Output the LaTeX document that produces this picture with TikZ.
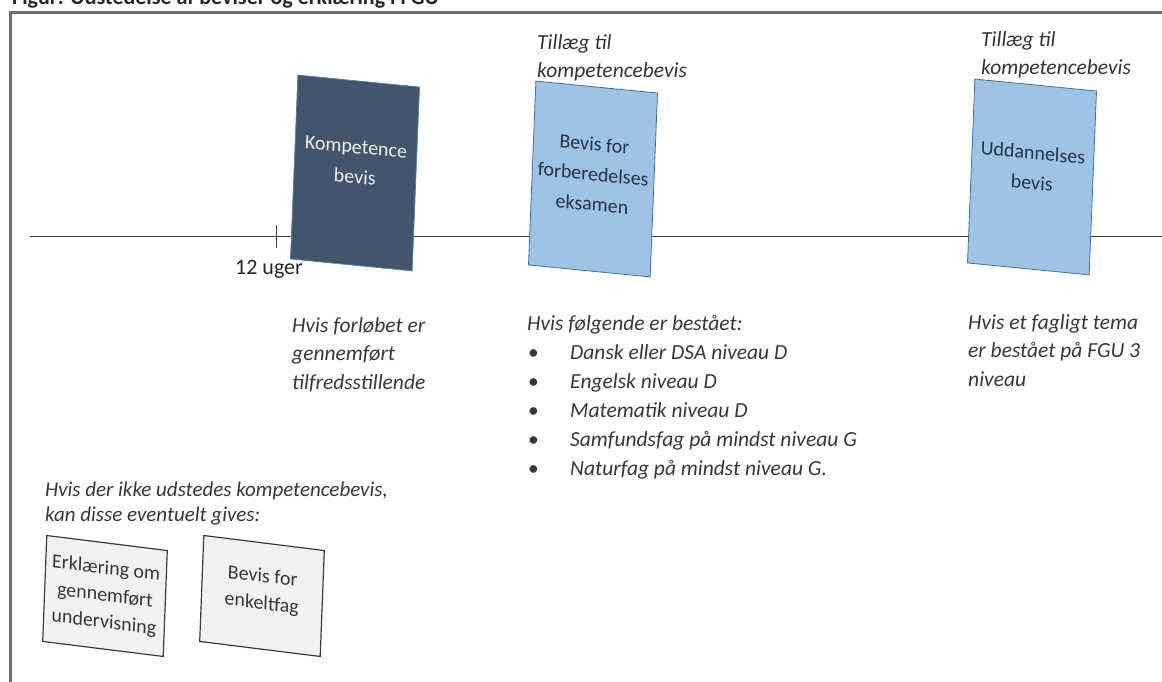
\documentclass[tikz,border=0pt]{standalone}
\usepackage{fontspec}
\setmainfont{Carlito}
\begin{document}
\begin{tikzpicture}[
		x=1pt, y=1pt,
		bevis/.style={draw, line width=0.8pt, minimum width=122pt, minimum height=184pt,
			align=center, inner sep=2pt, rotate=-2.3, yslant=-0.058,
			font=\fontsize{20}{30}\selectfont},
		lille/.style={draw=KantGraa, fill=FyldGraa, line width=1.2pt, text=TekstGraa,
			minimum width=121pt, minimum height=106pt, align=center, inner sep=2pt,
			rotate=-2.2, yslant=-0.086, font=\fontsize{20}{27}\selectfont},
		forklaring/.style={anchor=north west, align=left, inner sep=0pt, text=TekstGraa,
			font=\fontsize{21.5}{28.5}\selectfont\itshape}
	]
	% ===== FARVER =====
	\definecolor{FyldMoerk}{RGB}{68,84,106}
	\definecolor{KantMoerk}{RGB}{84,130,180}
	\definecolor{FyldLys}{RGB}{157,195,230}
	\definecolor{KantLys}{RGB}{65,113,156}
	\definecolor{TekstBlaa}{RGB}{38,50,70}
	\definecolor{FyldGraa}{RGB}{242,242,242}
	\definecolor{KantGraa}{RGB}{60,60,60}
	\definecolor{TekstGraa}{RGB}{55,55,55}
	\definecolor{Ramme}{RGB}{110,110,110}

	\def\Tillaeg{Tillæg til\\kompetencebevis}
	\def\Punkt{\hspace*{1pt}\makebox[42pt][l]{\upshape\textbullet}}

	\useasboundingbox (0,0) rectangle (1162,682);
	\clip (0,0) rectangle (1162,682);

	% ===== OVERSKRIFT OG RAMME =====
	\node[anchor=base west, inner sep=0pt, text=black!85, font=\fontsize{22}{26}\selectfont\bfseries]
		(titel) at (12,677) {Figur: Udstedelse af beviser og erklæring i FGU};
	\draw[Ramme, line width=3pt] (10,0) -- (10,669) -- (1170,669);

	% ===== TIDSLINJE =====
	\coordinate (start) at (30,445);
	\coordinate (slut) at (1162,445);
	\draw[black!75, line width=1pt] (start) -- (slut);
	\draw[black!75, line width=1pt] (276,457) -- (276,434);
	\node[inner sep=0pt, text=black!85, font=\fontsize{22}{26}\selectfont] (uger) at (269,413) {12 uger};

	% ===== BEVISER =====
	\node[bevis, draw=KantMoerk, fill=FyldMoerk, text=white!92!FyldMoerk]
		(komp) at (355,509) {Kompetence\\bevis\\[-8pt]\mbox{}};
	\node[bevis, draw=KantLys, fill=FyldLys, text=TekstBlaa]
		(forb) at (593,503) {Bevis for\\forberedelses\\eksamen\\[-20pt]\mbox{}};
	\node[bevis, draw=KantLys, fill=FyldLys, text=TekstBlaa]
		(udd) at (1032,505) {Uddannelses\\bevis\\[-11pt]\mbox{}};

	% ===== TEKSTER =====
	\node[forklaring, text=black!80] (tillaegA) at (537,648) {\Tillaeg};
	\node[forklaring, text=black!80] (tillaegB) at (981,651) {\Tillaeg};

	\node[forklaring] (hvisA) at (292,365)
		{Hvis forløbet er\\gennemført\\tilfredsstillende};

	\node[forklaring, font=\fontsize{21.5}{29}\selectfont\itshape] (hvisB) at (527,367)
		{Hvis følgende er bestået:\\
		\Punkt Dansk eller DSA niveau D\\
		\Punkt Engelsk niveau D\\
		\Punkt Matematik niveau D\\
		\Punkt Samfundsfag på mindst niveau G\\
		\Punkt Naturfag på mindst niveau G.};

	\node[forklaring] (hvisC) at (968,368)
		{Hvis et fagligt tema\\er bestået på FGU 3\\niveau};

	% ===== ERKLÆRINGER =====
	\node[forklaring, font=\fontsize{21}{25}\selectfont\itshape] (hvisIkke) at (45,200)
		{Hvis der ikke udstedes kompetencebevis,\\kan disse eventuelt gives:};

	\node[lille] (erkl) at (105,86) {Erklæring om\\gennemført\\undervisning};
	\node[lille] (enkelt) at (262,86) {Bevis for\\enkeltfag\\[-13pt]\mbox{}};

\end{tikzpicture}
\end{document}
